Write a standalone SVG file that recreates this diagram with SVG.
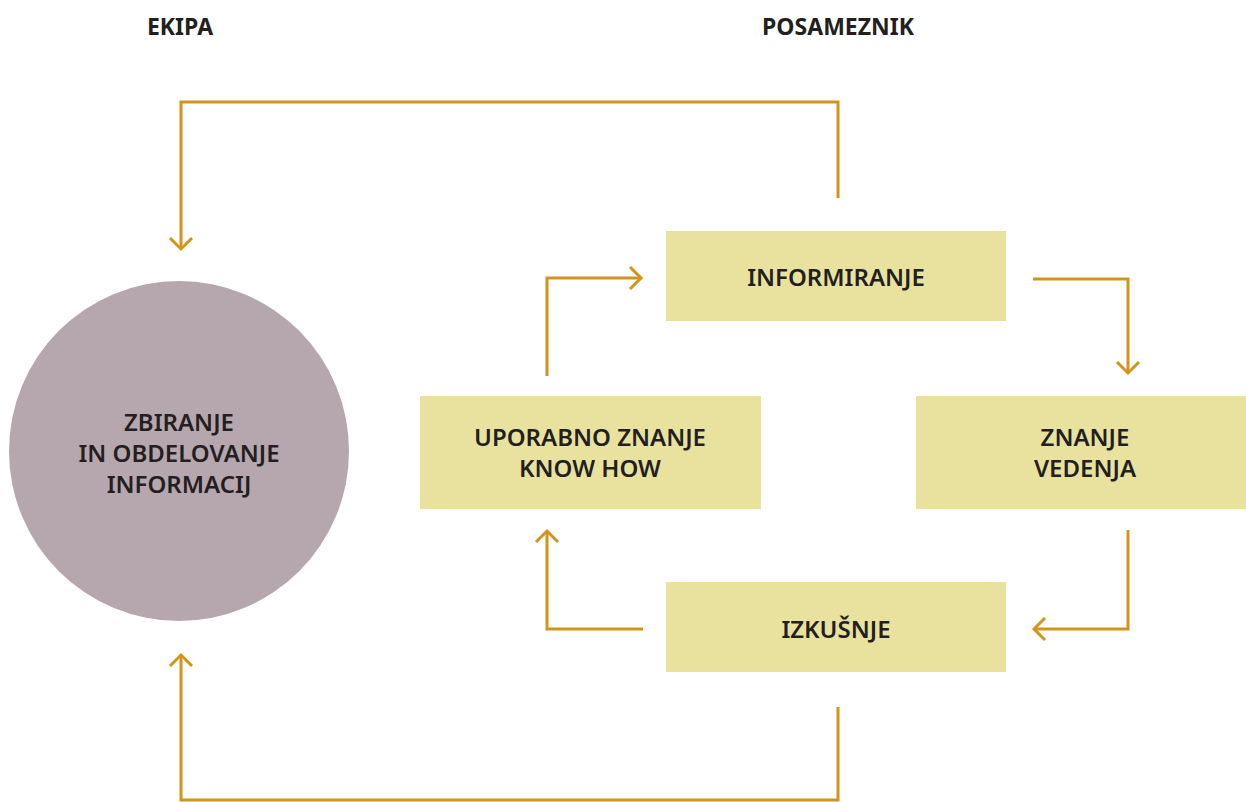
<svg xmlns="http://www.w3.org/2000/svg" width="1246" height="802" viewBox="0 0 1246 802">
  <style>
    .box { fill: #e9e29e; }
    .hub { fill: #b6a6ae; }
    .lbl { font-family: "Noto Sans", "Liberation Sans", sans-serif; font-size: 24px; font-weight: 600; fill: #231f20; text-anchor: middle; }
    .head { font-family: "Noto Sans", "Liberation Sans", sans-serif; font-size: 23px; font-weight: 700; fill: #231f20; text-anchor: middle; }
    .flow { fill: none; stroke: #d4941a; stroke-width: 3; stroke-linejoin: miter; }
    .tip { fill: none; stroke: #d4941a; stroke-width: 3; }
  </style>
  <rect width="1246" height="802" fill="#ffffff"/>

  <text class="head" x="180" y="35">EKIPA</text>
  <text class="head" x="838" y="35">POSAMEZNIK</text>

  <g id="zbiranje">
    <circle class="hub" cx="179" cy="451" r="170"/>
    <text class="lbl" x="179" y="431">ZBIRANJE</text>
    <text class="lbl" x="179" y="462">IN OBDELOVANJE</text>
    <text class="lbl" x="179" y="493">INFORMACIJ</text>
  </g>

  <g id="informiranje">
    <rect class="box" x="666" y="231" width="340" height="90"/>
    <text class="lbl" x="836" y="286">INFORMIRANJE</text>
  </g>

  <g id="uporabno">
    <rect class="box" x="420" y="396" width="341" height="113"/>
    <text class="lbl" x="590" y="446">UPORABNO ZNANJE</text>
    <text class="lbl" x="590" y="477">KNOW HOW</text>
  </g>

  <g id="znanje">
    <rect class="box" x="916" y="396" width="330" height="113"/>
    <text class="lbl" x="1085" y="446">ZNANJE</text>
    <text class="lbl" x="1085" y="477">VEDENJA</text>
  </g>

  <g id="izkusnje">
    <rect class="box" x="666" y="582" width="340" height="90"/>
    <text class="lbl" x="836" y="638">IZKUŠNJE</text>
  </g>

  <g id="connectors">
    <!-- outer loop top: posameznik back to ekipa -->
    <path class="flow" d="M838 198 V102 H181 V248"/>
    <path class="tip" d="M170 238 L181 249 L192 238"/>
    <!-- outer loop bottom -->
    <path class="flow" d="M838 707 V800 H181 V656" stroke-width="2.5"/>
    <path class="tip" d="M170 666 L181 655 L192 666"/>
    <!-- uporabno znanje to informiranje -->
    <path class="flow" d="M547 376 V278 H640"/>
    <path class="tip" d="M630 267 L641 278 L630 289"/>
    <!-- informiranje to znanje -->
    <path class="flow" d="M1033 279 H1128 V372"/>
    <path class="tip" d="M1117 362 L1128 373 L1139 362"/>
    <!-- znanje to izkusnje -->
    <path class="flow" d="M1128 530 V629 H1035"/>
    <path class="tip" d="M1045 618 L1034 629 L1045 640"/>
    <!-- izkusnje to uporabno znanje -->
    <path class="flow" d="M643 629 H547 V532"/>
    <path class="tip" d="M536 542 L547 531 L558 542"/>
  </g>
</svg>
